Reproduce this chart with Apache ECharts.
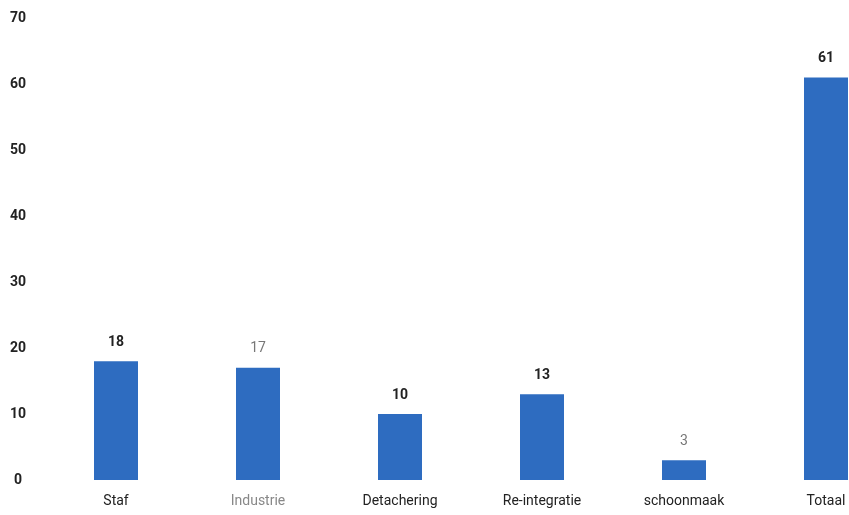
<!DOCTYPE html>
<html><head><meta charset="utf-8">
<script src="https://cdn.jsdelivr.net/npm/echarts@6/dist/echarts.min.js"></script>
<style>html,body{margin:0;padding:0;background:#fff}#c{width:849px;height:515px}</style>
</head><body><div id="c"></div>
<script>
const categories = ['Staf', 'Industrie', 'Detachering', 'Re-integratie', 'schoonmaak', 'Totaal'];
const values = [18, 17, 10, 13, 3, 61];
const yTicks = [0, 10, 20, 30, 40, 50, 60, 70];
const FONT = 'Roboto, "Noto Sans", sans-serif';
const darkLabel = {color: '#222', fontWeight: 'bold'};
const lightLabel = {color: '#777', fontWeight: 'normal'};
const labelStyle = [darkLabel, lightLabel, darkLabel, darkLabel, lightLabel, darkLabel];
const chart = echarts.init(document.getElementById('c'));
chart.setOption({
  animation: false,
  grid: {left: 45, top: 18, width: 852, height: 462, outerBoundsMode: 'none', containLabel: false},
  xAxis: {
    type: 'category', data: categories,
    axisLine: {show: false}, axisTick: {show: false},
    axisLabel: {
      margin: 14, fontSize: 14, fontFamily: FONT,
      color: function (v, i) { return i === 1 ? '#888' : '#222'; }
    }
  },
  yAxis: {
    type: 'value', min: yTicks[0], max: yTicks[yTicks.length - 1], interval: 10,
    axisLine: {show: false}, axisTick: {show: false}, splitLine: {show: false},
    axisLabel: {margin: 27, align: 'center', fontSize: 14, fontFamily: FONT, color: '#222', fontWeight: 'bold'}
  },
  series: [{
    type: 'bar', barWidth: 44,
    data: values.map((v, i) => ({
      value: v,
      label: {show: true, position: 'top', distance: 12, fontSize: 14, fontFamily: FONT,
        color: labelStyle[i].color, fontWeight: labelStyle[i].fontWeight}
    })),
    itemStyle: {color: '#2e6cc0'}
  }]
});
</script></body></html>
